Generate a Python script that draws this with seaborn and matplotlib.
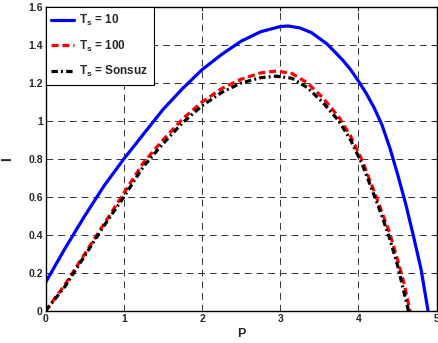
import numpy as np
import pandas as pd
import matplotlib
matplotlib.use('Agg')
import matplotlib.pyplot as plt
import seaborn as sns

# values
p_blue = [0.0, 0.25, 0.5, 0.75, 1.0, 1.25, 1.5, 1.75, 2.0, 2.25, 2.5, 2.75, 3.0, 3.1, 3.25,
          3.4, 3.6, 3.8, 3.9, 4.0, 4.1, 4.2, 4.3, 4.4, 4.5, 4.6, 4.7, 4.8, 4.89]
i_blue = [0.15, 0.33, 0.50, 0.66, 0.80, 0.93, 1.06, 1.17, 1.27, 1.35, 1.42, 1.47, 1.497, 1.50, 1.49,
          1.465, 1.405, 1.32, 1.27, 1.21, 1.145, 1.07, 0.98, 0.86, 0.72, 0.57, 0.40, 0.22, 0.0]

p_red = [0.0, 0.25, 0.5, 0.75, 1.0, 1.25, 1.5, 1.75, 2.0, 2.25, 2.5, 2.75, 2.95, 3.15, 3.35,
         3.55, 3.75, 3.9, 4.05, 4.2, 4.3, 4.4, 4.5, 4.58, 4.66]
i_red = [0.0, 0.14, 0.30, 0.46, 0.62, 0.78, 0.90, 1.01, 1.10, 1.17, 1.22, 1.253, 1.263, 1.25, 1.20,
         1.12, 1.02, 0.92, 0.79, 0.63, 0.52, 0.41, 0.27, 0.15, 0.0]

p_black = [0.0, 0.25, 0.5, 0.75, 1.0, 1.25, 1.5, 1.75, 2.0, 2.25, 2.5, 2.75, 2.95, 3.15, 3.35,
           3.55, 3.75, 3.9, 4.05, 4.2, 4.3, 4.4, 4.5, 4.57, 4.64]
i_black = [0.0, 0.13, 0.29, 0.45, 0.60, 0.76, 0.88, 0.99, 1.08, 1.15, 1.20, 1.228, 1.236, 1.225, 1.175,
           1.095, 1.0, 0.90, 0.77, 0.61, 0.50, 0.38, 0.24, 0.12, 0.0]

labels = [r'T$_\mathbf{s}$ = 10', r'T$_\mathbf{s}$ = 100', r'T$_\mathbf{s}$ = Sonsuz']
x_ticks = [0, 1, 2, 3, 4, 5]
y_ticks = [0, 0.2, 0.4, 0.6, 0.8, 1, 1.2, 1.4, 1.6]
y_tick_labels = ['0', '0.2', '0.4', '0.6', '0.8', '1', '1.2', '1.4', '1.6']

sns.set_style('white')
plt.rcParams['font.family'] = ['Liberation Sans', 'DejaVu Sans']
plt.rcParams['font.weight'] = 'bold'
plt.rcParams['mathtext.fontset'] = 'custom'
plt.rcParams['mathtext.bf'] = 'Liberation Sans:bold'
plt.rcParams['mathtext.rm'] = 'Liberation Sans:bold'

fig = plt.figure(figsize=(4.38, 3.43), dpi=100)
ax = fig.add_axes([0.104, 0.0933, 0.893, 0.8863])

series = [(p_blue, i_blue, 'blue', '-'),
          (p_red, i_red, 'red', (0, (2.2, 1.2))),
          (p_black, i_black, 'black', (0, (2.0, 1.0, 0.6, 1.0)))]
for (px, iy, col, ls), lab in zip(series, labels):
    df = pd.DataFrame({'P': px, 'I': iy})
    sns.lineplot(data=df, x='P', y='I', ax=ax, color=col, linestyle=ls,
                 linewidth=2.3, sort=False, label=lab)

ax.set_xlim(0, 5)
ax.set_ylim(0, 1.6)
ax.set_xticks(x_ticks)
ax.set_yticks(y_ticks)
ax.set_xticklabels([str(v) for v in x_ticks])
ax.set_yticklabels(y_tick_labels)
ax.tick_params(direction='in', length=3, width=0.8, labelsize=7.5,
               top=True, right=True, pad=2)
for lab in ax.get_xticklabels() + ax.get_yticklabels():
    lab.set_fontweight('bold')

ax.grid(True, color='#333333', linestyle=(0, (7, 5)), linewidth=0.7)
for s in ax.spines.values():
    s.set_color('black')
    s.set_linewidth(1.0)

ax.set_xlabel('P', fontsize=9, fontweight='bold', labelpad=3)
ax.set_ylabel('I', fontsize=10, fontweight='bold')
ax.yaxis.set_label_coords(-0.081, 0.5)

leg = ax.legend(loc='upper left', fontsize=8.5, frameon=True, fancybox=False,
                edgecolor='black', framealpha=1, borderaxespad=0,
                handlelength=1.9, handletextpad=0.4, labelspacing=0.9,
                borderpad=0.5)
leg.get_frame().set_linewidth(0.8)
for t in leg.get_texts():
    t.set_fontweight('bold')

fig.savefig('out.png', dpi=100)
